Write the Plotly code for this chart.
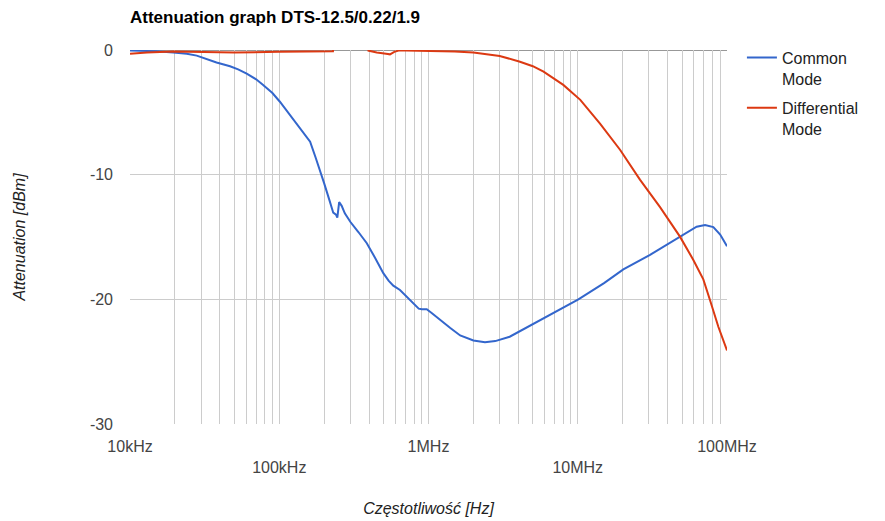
import plotly.graph_objects as go

# Common mode
cm_freq = [10000, 15000, 19500, 24000, 28000, 33000, 38000, 46800, 53000, 60500,
           70000, 78000, 90000, 101000, 124000, 145000, 161000, 175000, 187000, 200000,
           215000, 230000, 240000, 245000, 252000, 262000, 275000, 300000, 339000, 386000,
           440000, 498000, 540000, 581000, 644000, 700000, 791000, 860000, 900000, 973000,
           1050000, 1190000, 1400000, 1630000, 2000000, 2390000, 2800000, 3500000, 5000000, 7600000,
           10100000, 15000000, 20200000, 30500000, 40000000, 48400000, 56000000, 62600000, 71300000, 81000000,
           90000000, 100000000]
cm_db = [-0.05, -0.1, -0.2, -0.3, -0.45, -0.75, -1.0, -1.3, -1.55, -1.9,
         -2.35, -2.8, -3.45, -4.15, -5.55, -6.6, -7.35, -8.6, -9.6, -10.7,
         -11.9, -13.05, -13.2, -13.45, -12.2, -12.5, -13.1, -13.8, -14.6, -15.5,
         -16.7, -17.9, -18.5, -18.9, -19.25, -19.7, -20.3, -20.75, -20.8, -20.8,
         -21.1, -21.65, -22.3, -22.9, -23.3, -23.45, -23.35, -23.0, -22.0, -20.85,
         -20.0, -18.7, -17.6, -16.44, -15.6, -15.0, -14.5, -14.17, -14.03, -14.2,
         -14.8, -15.75]

# Differential mode
dm_freq = [10000, 13000, 19500, 30000, 50000, 100000, 150000, 229000, 231000, 390000,
           396000, 450000, 520000, 552000, 590000, 630000, 700000, 1000000, 1500000, 2000000,
           3000000, 4100000, 5000000, 5900000, 7000000, 8000000, 10400000, 14100000, 19200000, 26100000,
           35600000, 44800000, 48400000, 59500000, 69400000, 76900000, 87500000, 100000000]
dm_db = [-0.3, -0.2, -0.12, -0.15, -0.2, -0.15, -0.15, -0.1, 1.0, 1.0,
         -0.05, -0.2, -0.3, -0.35, -0.15, -0.05, -0.05, -0.08, -0.12, -0.2,
         -0.48, -0.94, -1.3, -1.74, -2.3, -2.8, -4.0, -5.9, -8.0, -10.4,
         -12.6, -14.4, -14.97, -16.84, -18.4, -20.05, -22.2, -24.1]

decade_labels = {10000: "10kHz", 100000: " <br>100kHz", 1000000: "1MHz",
                 10000000: " <br>10MHz", 100000000: "100MHz"}

tick_vals = [m * 10 ** e for e in range(4, 8) for m in range(1, 10)] + [100000000]
tick_text = [decade_labels.get(v, "") for v in tick_vals]

y_ticks = [0, -10, -20, -30]
y_labels = ["0", "-10", "-20", "-30"]

font = "Arial, Liberation Sans, sans-serif"

fig = go.Figure()
fig.add_trace(go.Scatter(x=cm_freq, y=cm_db, mode="lines", name="Common<br>Mode",
                         line=dict(color="#3366cc", width=2), legend="legend"))
fig.add_trace(go.Scatter(x=dm_freq, y=dm_db, mode="lines", name="Differential<br>Mode",
                         line=dict(color="#dc3912", width=2), legend="legend2"))

# dark baseline at 0 dB
fig.add_shape(type="line", xref="paper", x0=0, x1=1, yref="y", y0=0, y1=0,
              line=dict(color="#333333", width=1), layer="below")

legend_style = dict(xanchor="left", yanchor="top", valign="top",
                    font=dict(size=16, color="#222222"), bgcolor="rgba(0,0,0,0)")

# the page body has an 8px margin, so margins are shifted by 8
fig.update_layout(
    width=885, height=521,
    margin=dict(l=122, r=166, t=42, b=105, autoexpand=False),
    paper_bgcolor="white", plot_bgcolor="white",
    font=dict(family=font, size=16, color="#222222"),
    title=dict(text="<b>Attenuation graph DTS-12.5/0.22/1.9</b>",
               x=122 / 885, xanchor="left", y=1 - 9 / 521, yanchor="middle",
               font=dict(size=17, color="#000000")),
    xaxis=dict(
        type="log", range=[4, 8],
        tickvals=tick_vals, ticktext=tick_text,
        showgrid=True, gridcolor="#cccccc", gridwidth=1,
        ticks="", ticklabelstandoff=11,
        tickfont=dict(size=16, color="#444444"),
        showline=False, zeroline=False,
        title=dict(text="<i>Częstotliwość [Hz]</i>", font=dict(size=16, color="#222222"), standoff=28),
    ),
    yaxis=dict(
        range=[-30, 0], tickvals=y_ticks, ticktext=y_labels,
        showgrid=True, gridcolor="#cccccc", gridwidth=1,
        zeroline=False,
        ticks="", ticklabelstandoff=16,
        tickfont=dict(size=16, color="#444444"),
        showline=False,
        title=dict(text="<i>Attenuation [dBm]</i>", font=dict(size=16, color="#222222"), standoff=60),
    ),
    legend=dict(x=1.025, y=1.025, **legend_style),
    legend2=dict(x=1.025, y=0.891, **legend_style),
    showlegend=True,
)

fig.write_html("out.html")
